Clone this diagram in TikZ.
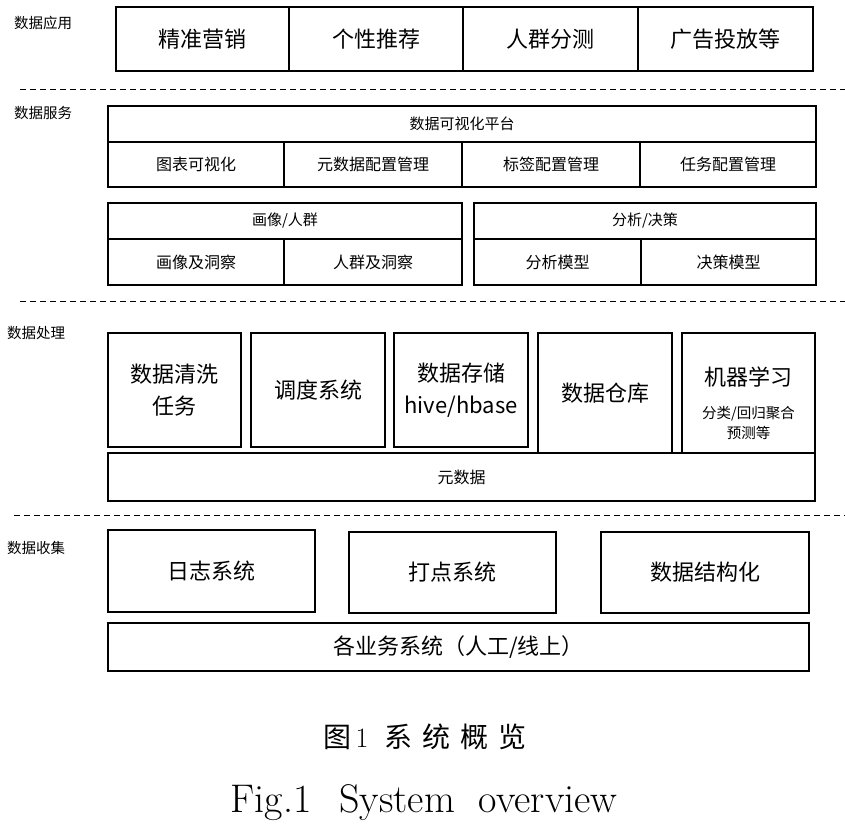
\documentclass[tikz,border=0pt]{standalone}
\usepackage{fontspec}
\newfontfamily\cjk{Noto Sans CJK SC}

\begin{document}
\begin{tikzpicture}[x=1pt,y=-1pt,
        box/.style={draw,line width=1.2pt,inner sep=0pt,font=\cjk\fontsize{22}{32}\selectfont,align=center},
        midbox/.style={box,font=\cjk\fontsize{16}{20}\selectfont},
        headbox/.style={box,font=\cjk\fontsize{15}{20}\selectfont},
        tag/.style={inner sep=0pt,font=\cjk\fontsize{14.5}{18}\selectfont},
        sep/.style={line width=1pt,dash pattern=on 6pt off 4pt}]
        \useasboundingbox (0,0) rectangle (845,836); % page size
        % data application
        \node[tag] (tapp) at (43,23) {数据应用};
        \node[box,minimum width=173,minimum height=64] (jzyx) at (202.5,39) {精准营销};
        \node[box,minimum width=174,minimum height=64] (gxtj) at (376,39) {个性推荐};
        \node[box,minimum width=175,minimum height=64] (rqfc) at (550.5,39) {人群分测};
        \node[box,minimum width=175,minimum height=64] (ggtf) at (725.5,39) {广告投放等};
        \draw[sep] (20,89) -- (845,89); % layer line
        % data service
        \node[tag] (tsrv) at (43,113) {数据服务};
        \node[headbox,minimum width=708,minimum height=36] (kshpt) at (462,124) {数据可视化平台};
        \node[midbox,minimum width=176,minimum height=45] (tbksh) at (196,164.5) {图表可视化};
        \node[midbox,minimum width=178,minimum height=45] (ysjpz) at (373,164.5) {元数据配置管理};
        \node[midbox,minimum width=178,minimum height=45] (bqpz) at (551,164.5) {标签配置管理};
        \node[midbox,minimum width=176,minimum height=45] (rwpz) at (728,164.5) {任务配置管理};
        \node[headbox,minimum width=354,minimum height=36] (hxrq) at (285,221) {画像/人群};
        \node[midbox,minimum width=176,minimum height=46] (hxdc) at (196,262) {画像及洞察};
        \node[midbox,minimum width=178,minimum height=46] (rqdc) at (373,262) {人群及洞察};
        \node[headbox,minimum width=342,minimum height=36] (fxjc) at (645,221) {分析/决策};
        \node[midbox,minimum width=167,minimum height=46] (fxmx) at (557.5,262) {分析模型};
        \node[midbox,minimum width=175,minimum height=46] (jcmx) at (728.5,262) {决策模型};
        \draw[sep] (20,301) -- (845,301); % layer line
        % data processing
        \node[tag] (tproc) at (36,333) {数据处理};
        \node[box,minimum width=133,minimum height=114] (sjqx) at (174.5,390) {数据清洗\\任务};
        \node[box,minimum width=134,minimum height=114] (ddxt) at (318,390) {调度系统};
        \node[box,minimum width=134,minimum height=114] (sjcc) at (461,390) {数据存储\\hive/hbase};
        \node[box,minimum width=134,minimum height=120] (sjck) at (605,393) {数据仓库};
        \node[box,minimum width=133,minimum height=120] (jqxx) at (748.5,393) {};
        \node[inner sep=0pt,font=\cjk\fontsize{22}{26}\selectfont] (jqxxt) at (748.5,377) {机器学习};
        \node[inner sep=0pt,align=center,font=\cjk\fontsize{14.5}{20}\selectfont] (jqxxs) at (748.5,423) {分类/回归聚合\\预测等};
        \node[midbox,minimum width=707,minimum height=48] (ysj) at (461.5,477) {元数据};
        \draw[sep] (14,515) -- (845,515); % layer line
        % data collection
        \node[tag] (tcol) at (36,548) {数据收集};
        \node[box,minimum width=207,minimum height=82] (rzxt) at (211.5,571) {日志系统};
        \node[box,minimum width=207,minimum height=81] (ddxt2) at (452.5,572.5) {打点系统};
        \node[box,minimum width=208,minimum height=81] (sjjg) at (705,572.5) {数据结构化};
        \node[box,minimum width=701,minimum height=48] (ywxt) at (458.5,647) {各业务系统（人工/线上）};
        % caption
        \node[inner sep=0pt,font=\fontsize{28}{32}\selectfont] (cap) at (425,737)
        {{\cjk 图}\hspace{4pt}1\hspace{16pt}{\cjk 系\hspace{10pt}统\hspace{10pt}概\hspace{10pt}览}};
        \node[inner sep=0pt,anchor=base,font=\fontsize{40}{44}\selectfont] (capen) at (424,812)
        {Fig.1\hspace{28pt}System\hspace{24pt}overview};
\end{tikzpicture}
\end{document}
